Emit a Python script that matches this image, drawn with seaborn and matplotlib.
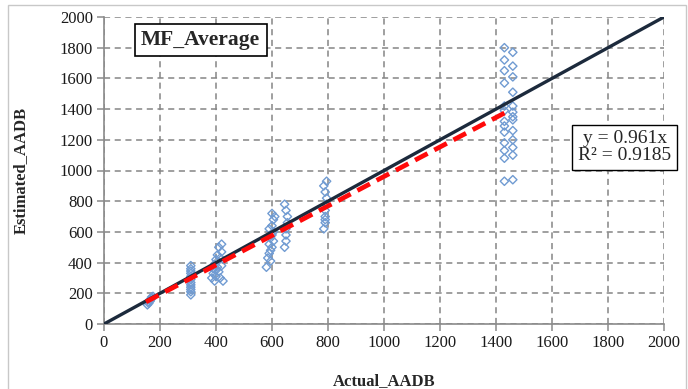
import matplotlib
matplotlib.use('Agg')
import matplotlib.pyplot as plt
import seaborn as sns
import numpy as np
import pandas as pd
from matplotlib.patches import Rectangle

# actual vs estimated AADB, read off the picture cluster by cluster
actual_a = [155, 160, 160, 165, 165, 170, 170, 175]
est_a = [125, 135, 145, 150, 160, 165, 175, 180]

actual_b = [310] * 12
est_b = [190, 210, 225, 240, 255, 270, 290, 310, 330, 345, 360, 380]

actual_c = [385, 390, 390, 395, 395, 400, 400, 400, 405, 405, 410, 410, 415, 415, 420, 420, 420, 425]
est_c = [300, 330, 360, 280, 390, 310, 350, 420, 370, 450, 340, 500, 300, 430, 380, 470, 520, 280]

actual_d = [580, 585, 590, 590, 595, 595, 600, 600, 600, 605, 605, 610, 590, 600, 595, 605]
est_d = [370, 430, 460, 520, 480, 560, 500, 580, 640, 600, 680, 700, 620, 720, 410, 540]

actual_e = [645, 650, 650, 650, 655, 655, 650, 645]
est_e = [500, 540, 580, 620, 660, 700, 740, 780]

actual_f = [785, 790, 790, 790, 795, 795, 790, 785, 795, 790]
est_f = [620, 660, 700, 740, 780, 820, 860, 900, 930, 680]

actual_g = [1430, 1430, 1430, 1430, 1430, 1430, 1430, 1430, 1430, 1430, 1430, 1430, 1430]
est_g = [930, 1080, 1130, 1180, 1250, 1290, 1320, 1390, 1420, 1570, 1650, 1720, 1800]

actual_h = [1460, 1460, 1460, 1460, 1460, 1460, 1460, 1460, 1460, 1460, 1460, 1460, 1460]
est_h = [940, 1100, 1150, 1200, 1260, 1330, 1350, 1380, 1420, 1510, 1610, 1680, 1770]

slope = 0.961
r2 = 0.9185
title_txt = 'MF_Average'
x_name = 'Actual_AADB'
y_name = 'Estimated_AADB'
ticks = list(range(0, 2001, 200))

df = pd.DataFrame({
    'actual': actual_a + actual_b + actual_c + actual_d + actual_e + actual_f + actual_g + actual_h,
    'est': est_a + est_b + est_c + est_d + est_e + est_f + est_g + est_h,
})

sns.set_theme(style='white')
plt.rcParams['font.family'] = ['Liberation Serif', 'DejaVu Serif']

fig = plt.figure(figsize=(6.88, 3.89), dpi=100)
ax = fig.add_axes([104 / 688, 65 / 389, 560 / 688, 307 / 389])

# outer frame of the chart area
fig.patches.append(Rectangle((8 / 688, -0.05), 678 / 688, 1.05 - 5 / 389,
                             transform=fig.transFigure, fill=False,
                             edgecolor='#c8c8c8', linewidth=1.0))

ax.set_xlim(0, 2000)
ax.set_ylim(0, 2000)
ax.set_xticks(ticks)
ax.set_yticks(ticks)
ax.grid(True, color='#858585', linestyle=(0, (4, 3)), linewidth=1.1)
for s in ['top', 'right']:
    ax.spines[s].set_visible(False)
for s in ['left', 'bottom']:
    ax.spines[s].set_color('#8a8a8a')
    ax.spines[s].set_linewidth(1.2)
ax.tick_params(axis='both', direction='out', length=5, width=1.1, color='#8a8a8a',
               labelsize=12, labelcolor='#1a1a1a', pad=3, bottom=True, left=True)

sns.scatterplot(data=df, x='actual', y='est', ax=ax, marker='D', s=18,
                facecolor='none', edgecolor='#709bd2', linewidth=1.0, zorder=3)

# 1:1 line
one = pd.DataFrame({'x': [0, 2000], 'y': [0, 2000]})
sns.lineplot(data=one, x='x', y='y', ax=ax, color='#1c2a3c', linewidth=2.4, zorder=4)

# fitted trend line through origin
xs = np.array([df['actual'].min() - 5, df['actual'].max() - 25])
fit = pd.DataFrame({'x': xs, 'y': slope * xs})
sns.lineplot(data=fit, x='x', y='y', ax=ax, color='#ff0a0a', linewidth=3.4,
             zorder=5).lines[-1].set_dashes([3.0, 1.6])

ax.set_xlabel(x_name, fontsize=12, fontweight='bold', labelpad=16)
ax.set_ylabel(y_name, fontsize=12, fontweight='bold', labelpad=22)

ax.text(0.066, 0.925, title_txt, transform=ax.transAxes, fontsize=15.5,
        fontweight='bold', va='center', ha='left', zorder=6,
        bbox=dict(boxstyle='square,pad=0.3', facecolor='white', edgecolor='black', linewidth=1.2))

ax.text(0.93, 0.575, 'y = %.3fx\nR² = %.4f' % (slope, r2), transform=ax.transAxes,
        fontsize=14, va='center', ha='center', multialignment='center',
        linespacing=1.0, zorder=6, clip_on=False,
        bbox=dict(boxstyle='square,pad=0.3', facecolor='white', edgecolor='black', linewidth=1.0))

fig.savefig('out.png', dpi=100)
